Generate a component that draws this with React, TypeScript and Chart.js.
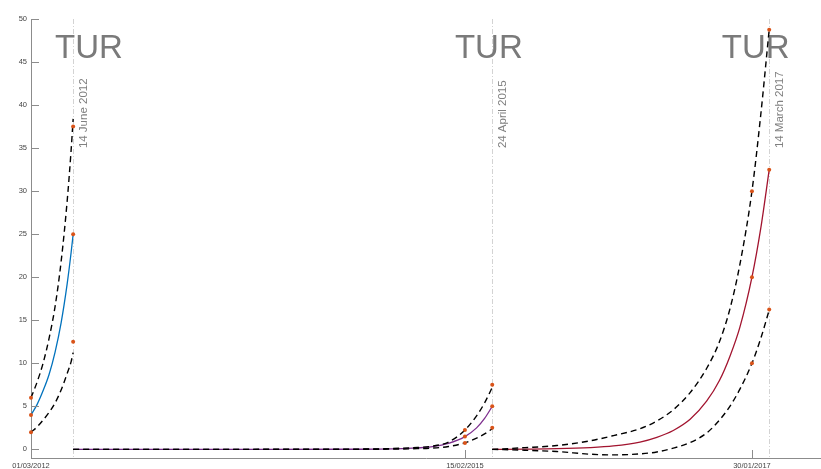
import React, { useEffect, useRef } from "react";
import { Chart, registerables } from "chart.js";

Chart.register(...registerables);

// ---------- data ----------
const BASE_DATE_UTC = Date.UTC(2012, 2, 1); // day 0 = 01/03/2012
const xTickDays = [0, 1081, 1796];
const yTickValues = [0, 5, 10, 15, 20, 25, 30, 35, 40, 45, 50];

// segment 1 (blue)
const seg1Days = [0, 15, 30, 45, 60, 75, 90, 100, 105];
const seg1Mid = [4, 5.2, 6.8, 8.7, 11.3, 14.7, 19.2, 22.9, 25];
const seg1Upper = [6, 7.8, 10.0, 12.9, 16.6, 21.8, 28.8, 34.8, 38.4];
const seg1Lower = [2, 2.6, 3.4, 4.3, 5.4, 6.9, 8.8, 10.2, 11.25];

// segment 2 (purple)
const seg2Days = [105, 400, 600, 800, 900, 950, 1000, 1040, 1080, 1110, 1130, 1149];
const seg2Mid = [0, 0, 0.002, 0.015, 0.05, 0.14, 0.33, 0.7, 1.45, 2.5, 3.6, 5.0];
const seg2Upper = [0, 0, 0.01, 0.03, 0.1, 0.2, 0.38, 0.85, 2.2, 3.9, 5.4, 7.2];
const seg2Lower = [0, 0, 0, 0.005, 0.03, 0.07, 0.15, 0.33, 0.75, 1.3, 1.8, 2.4];

// segment 3 (red)
const seg3Days = [1149, 1230, 1310, 1393, 1451, 1517, 1559, 1600, 1642, 1683, 1715, 1741, 1766, 1796, 1818, 1839];
const seg3Mid = [0, 0.03, 0.08, 0.21, 0.4, 0.85, 1.4, 2.2, 3.5, 5.6, 8.0, 10.8, 14.2, 20.0, 25.7, 32.5];
const seg3Upper = [0, 0.2, 0.45, 1.0, 1.6, 2.4, 3.3, 4.6, 6.6, 9.4, 12.5, 16.3, 21.5, 30.0, 38.9, 48.8];
const seg3Lower = [0, -0.1, -0.25, -0.56, -0.64, -0.52, -0.3, 0.14, 0.8, 1.9, 3.4, 5.0, 7.0, 10.0, 12.9, 16.2];

// observed markers
const markerDays = [0, 0, 0, 105, 105, 105, 1081, 1081, 1081, 1149, 1149, 1149, 1796, 1796, 1796, 1839, 1839, 1839];
const markerValues = [6, 4, 2, 37.5, 25, 12.5, 2.25, 1.5, 0.75, 7.5, 5, 2.5, 30, 20, 10, 48.75, 32.5, 16.25];

// annotations
const eventDays = [105, 1149, 1839];
const eventLabels = ["14 June 2012", "24 April 2015", "14 March 2017"];
const eventLabelValue = 35;
const countryLabel = "TUR";
const countryLabelDays = [60, 1056, 1721];
const countryLabelValue = 45.5;

// ---------- helpers ----------
const FONT = "'Liberation Sans', Arial, Helvetica, sans-serif";

function pts(days: number[], vals: number[]) {
  return days.map((d, i) => ({ x: d, y: vals[i] }));
}

function fmtDay(v: number) {
  const dt = new Date(BASE_DATE_UTC + v * 86400000);
  const dd = String(dt.getUTCDate()).padStart(2, "0");
  const mm = String(dt.getUTCMonth() + 1).padStart(2, "0");
  return `${dd}/${mm}/${dt.getUTCFullYear()}`;
}

const annotationPlugin = {
  id: "annotations",
  beforeDatasetsDraw(chart: any) {
    const { ctx, chartArea, scales } = chart;
    const xs = scales.x;
    const ys = scales.y;
    ctx.save();
    ctx.strokeStyle = "#c8c8c8";
    ctx.lineWidth = 0.8;
    ctx.setLineDash([5, 2, 1, 2]);
    eventDays.forEach((d) => {
      const px = Math.round(xs.getPixelForValue(d)) + 0.5;
      ctx.beginPath();
      ctx.moveTo(px, chartArea.top);
      ctx.lineTo(px, chartArea.bottom);
      ctx.stroke();
    });
    ctx.setLineDash([]);
    ctx.fillStyle = "#7a7a7a";
    ctx.font = `33px ${FONT}`;
    ctx.textAlign = "left";
    ctx.textBaseline = "alphabetic";
    countryLabelDays.forEach((d) => {
      ctx.fillText(countryLabel, xs.getPixelForValue(d), ys.getPixelForValue(countryLabelValue));
    });
    ctx.fillStyle = "#808080";
    ctx.font = `11.5px ${FONT}`;
    eventDays.forEach((d, i) => {
      ctx.save();
      ctx.translate(xs.getPixelForValue(d) + 13.5, ys.getPixelForValue(eventLabelValue));
      ctx.rotate(-Math.PI / 2);
      ctx.fillText(eventLabels[i], 0, 0);
      ctx.restore();
    });
    ctx.restore();
  },
  afterDraw(chart: any) {
    const { ctx, chartArea, scales } = chart;
    ctx.save();
    ctx.strokeStyle = "#8c8c8c";
    ctx.lineWidth = 1;
    yTickValues.forEach((v) => {
      const py = Math.round(scales.y.getPixelForValue(v)) + 0.5;
      ctx.beginPath();
      ctx.moveTo(chartArea.left, py);
      ctx.lineTo(chartArea.left + 8, py);
      ctx.stroke();
    });
    xTickDays.forEach((d) => {
      const px = Math.round(scales.x.getPixelForValue(d)) + 0.5;
      ctx.beginPath();
      ctx.moveTo(px, chartArea.bottom);
      ctx.lineTo(px, chartArea.bottom - 8);
      ctx.stroke();
    });
    ctx.restore();
  },
};

function solid(data: any[], color: string) {
  return {
    data,
    borderColor: color,
    borderWidth: 1.3,
    pointRadius: 0,
    fill: false,
    cubicInterpolationMode: "monotone",
    order: 3,
  };
}
function dashed(data: any[]) {
  return {
    data,
    borderColor: "#000000",
    borderWidth: 1.4,
    borderDash: [6, 4],
    pointRadius: 0,
    fill: false,
    cubicInterpolationMode: "monotone",
    order: 2,
  };
}

export default function App() {
  const ref = useRef<HTMLCanvasElement | null>(null);
  useEffect(() => {
    document.body.style.margin = "0";
    if (!ref.current) return;
    const chart = new Chart(ref.current, {
      type: "line",
      data: {
        datasets: [
          solid(pts(seg1Days, seg1Mid), "#0072BD"),
          solid(pts(seg2Days, seg2Mid), "#7E2F8E"),
          solid(pts(seg3Days, seg3Mid), "#A2142F"),
          dashed(pts(seg1Days, seg1Upper)),
          dashed(pts(seg1Days, seg1Lower)),
          dashed(pts(seg2Days, seg2Upper)),
          dashed(pts(seg2Days, seg2Lower)),
          dashed(pts(seg3Days, seg3Upper)),
          dashed(pts(seg3Days, seg3Lower)),
          {
            data: pts(markerDays, markerValues),
            showLine: false,
            pointRadius: 2,
            pointBorderWidth: 0,
            pointBackgroundColor: "#D95319",
            borderColor: "#D95319",
            clip: 6,
            order: 1,
          } as any,
        ] as any,
      },
      options: {
        animation: false,
        responsive: false,
        maintainAspectRatio: false,
        layout: { autoPadding: false, padding: { top: 19, left: 0, right: 0, bottom: 0 } },
        plugins: { legend: { display: false }, tooltip: { enabled: false } },
        scales: {
          x: {
            type: "linear",
            min: 0,
            max: 1968,
            afterBuildTicks: (s: any) => {
              s.ticks = xTickDays.map((v) => ({ value: v }));
            },
            afterFit: (s: any) => {
              s.height = 11;
              s.paddingLeft = 0;
              s.paddingRight = 0;
            },
            ticks: {
              callback: (v: any) => fmtDay(Number(v)),
              font: { size: 7.5, family: FONT },
              color: "#444444",
              padding: 3,
              maxRotation: 0,
              autoSkip: false,
            },
            grid: { display: false, drawTicks: false },
            border: { display: true, color: "#8c8c8c", width: 1 },
          },
          y: {
            type: "linear",
            min: -1,
            max: 50,
            afterBuildTicks: (s: any) => {
              s.ticks = yTickValues.map((v) => ({ value: v }));
            },
            afterFit: (s: any) => {
              s.width = 31;
              s.paddingTop = 0;
              s.paddingBottom = 0;
            },
            ticks: {
              font: { size: 7.5, family: FONT },
              color: "#444444",
              padding: 4,
            },
            grid: { display: false, drawTicks: false },
            border: { display: true, color: "#8c8c8c", width: 1 },
          },
        },
      } as any,
      plugins: [annotationPlugin],
    });
    return () => chart.destroy();
  }, []);
  return (
    <div style={{ width: 821, height: 469, position: "relative" }}>
      <canvas ref={ref} width={821} height={469} style={{ display: "block" }} />
    </div>
  );
}
